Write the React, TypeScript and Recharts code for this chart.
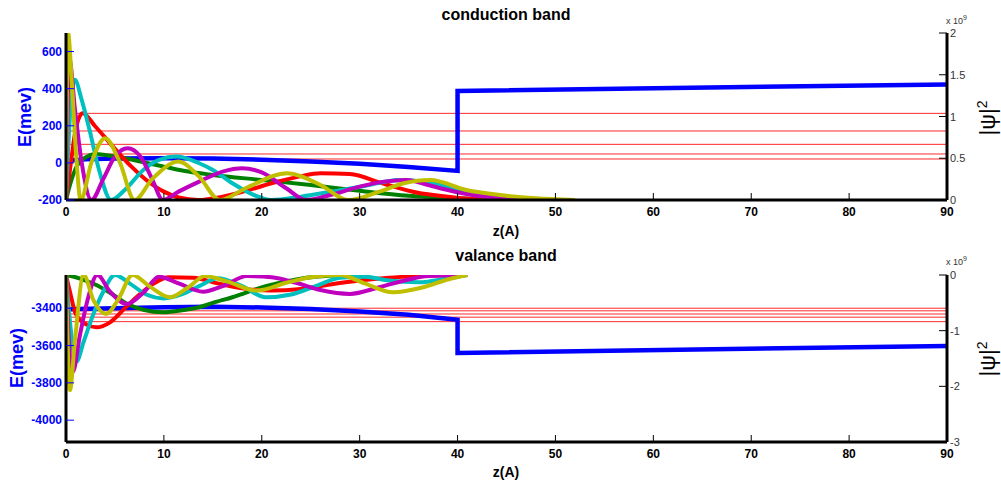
import { LineChart, Line, XAxis, YAxis, ReferenceLine } from 'recharts';

const FONT = "Arial, 'Liberation Sans', sans-serif";

const zTicks = [0, 10, 20, 30, 40, 50, 60, 70, 80, 90];

// ---- conduction band ----
const cbETicks = [-200, 0, 200, 400, 600];
const cbPsiTicks = [0, 0.5, 1, 1.5, 2];
const cbPotZ = [0, 2, 5, 10, 15, 20, 25, 30, 35, 40, 40, 90];
const cbPotE = [12, 20, 24, 25, 23, 17, 8, -5, -22, -43, 388, 423];
const cbLevels = [267, 172, 100, 48, 21];

const cbGreenZ = [0, 0.5, 1, 2, 3, 4, 6, 8, 10, 12, 15, 20, 25, 30, 35, 40, 45];
const cbGreenV = [0, 0.22, 0.38, 0.51, 0.55, 0.54, 0.5, 0.45, 0.4, 0.35, 0.3, 0.24, 0.18, 0.11, 0.05, 0.02, 0];
const cbRedZ = [0, 0.5, 1, 1.7, 3, 4.8, 6.5, 8.2, 10, 11.5, 13.5, 16, 18.7, 21, 23.8, 26, 29, 32.3, 35.8, 39, 42, 46];
const cbRedV = [0, 0.45, 0.85, 1.04, 0.88, 0.64, 0.42, 0.24, 0.1, 0.03, 0, 0.04, 0.12, 0.2, 0.28, 0.32, 0.31, 0.2, 0.09, 0.04, 0.01, 0];
const cbCyanZ = [0, 0.4, 0.9, 1.6, 2.4, 3.4, 4.6, 6, 7.9, 9.5, 11.3, 13.6, 15, 17, 19, 21, 24, 27.2, 30.6, 34, 37.5, 40.9, 44.3, 48];
const cbCyanV = [0, 1.0, 1.44, 1.2, 0.84, 0.35, 0, 0.12, 0.36, 0.48, 0.52, 0.44, 0.36, 0.2, 0.07, 0, 0.04, 0.1, 0.17, 0.24, 0.2, 0.1, 0.03, 0];
const cbMagZ = [0, 0.35, 0.9, 1.6, 2.6, 3.8, 5, 6.3, 7.6, 8.8, 9.9, 11.5, 13.6, 16, 18, 20, 22.5, 24.5, 27, 30, 32.5, 34.8, 37, 39, 42, 44.3, 47];
const cbMagV = [0, 1.68, 1.1, 0.45, 0, 0.25, 0.52, 0.62, 0.52, 0.25, 0, 0.1, 0.22, 0.34, 0.38, 0.33, 0.14, 0, 0.06, 0.16, 0.22, 0.24, 0.18, 0.12, 0.05, 0.02, 0];
const cbYelZ = [0, 0.2, 0.6, 1.0, 1.5, 2.6, 4.0, 5.5, 7.0, 8.8, 11.5, 13.6, 15.7, 18.5, 22.6, 26, 28.8, 32, 34.5, 37.2, 40.9, 44.3, 48, 52];
const cbYelV = [0, 2.0, 1.4, 0.6, 0, 0.45, 0.74, 0.45, 0, 0.25, 0.46, 0.28, 0, 0.15, 0.32, 0.18, 0, 0.1, 0.2, 0.24, 0.12, 0.06, 0.02, 0];

// ---- valance band ----
const vbETicks = [-4000, -3800, -3600, -3400];
const vbPsiTicks = [-3, -2, -1, 0];
const vbPotZ = [0, 5, 10, 15, 20, 25, 30, 35, 40, 40, 90];
const vbPotE = [-3405, -3400, -3395, -3392, -3396, -3404, -3418, -3435, -3462, -3640, -3602];
const vbLevels = [-3400, -3414, -3431, -3448, -3472];

const vbGreenZ = [0, 1, 2, 3.1, 4.5, 6.5, 8, 9.9, 12, 13.6, 15, 17, 20.4, 23.8, 27.2, 30];
const vbGreenV = [0, -0.04, -0.1, -0.18, -0.32, -0.54, -0.63, -0.67, -0.63, -0.58, -0.5, -0.4, -0.2, -0.07, -0.01, 0];
const vbRedZ = [0, 0.4, 1, 2, 3.1, 4.5, 6, 7.5, 9, 10.5, 13, 15.5, 18, 21, 24, 27, 30, 33, 36, 40];
const vbRedV = [0, -0.3, -0.7, -0.88, -0.94, -0.85, -0.6, -0.35, -0.15, -0.04, -0.05, -0.15, -0.24, -0.28, -0.25, -0.17, -0.1, -0.05, -0.02, 0];
const vbCyanZ = [0, 0.5, 1.05, 1.8, 2.8, 3.8, 5, 6.5, 8.2, 10, 11.8, 13.6, 15.5, 18, 20.4, 23, 25.5, 28, 30.5, 33, 36, 39, 41];
const vbCyanV = [0, -1.0, -1.56, -1.2, -0.7, -0.3, 0, -0.15, -0.35, -0.42, -0.35, -0.2, -0.06, -0.2, -0.4, -0.35, -0.2, -0.05, -0.03, -0.1, -0.13, -0.06, 0];
const vbMagZ = [0, 0.3, 0.7, 1.4, 2.2, 3.2, 4.5, 6.2, 8, 9.5, 11.5, 14, 16, 18.5, 21, 23.5, 26, 29, 32, 35, 37, 41];
const vbMagV = [0, -1.2, -1.74, -1.1, -0.45, 0, -0.3, -0.52, -0.3, -0.03, -0.15, -0.3, -0.2, -0.02, -0.04, -0.14, -0.27, -0.34, -0.22, -0.08, -0.02, 0];
const vbYelZ = [0, 0.4, 0.9, 1.8, 2.8, 4.1, 5.3, 6.8, 8.5, 10.6, 12.5, 14.2, 16.5, 19.5, 22.5, 25, 28, 30.5, 33.4, 36.5, 39, 41];
const vbYelV = [0, -2.07, -1.2, 0, -0.45, -0.7, -0.45, 0, -0.2, -0.4, -0.22, -0.02, -0.12, -0.28, -0.14, -0.04, 0, -0.15, -0.31, -0.22, -0.08, 0];

const WAVE_COLORS = ['#008000', '#ff0000', '#00bfbf', '#bf00bf', '#bfbf00'];

const pts = (zs: number[], vs: number[]) => zs.map((z, i) => ({ z, v: vs[i] }));

const PL = 66;
const PR = 947;
const W = 1001;
const H = 243;

interface PanelProps {
  mt: number;
  xh: number;
  eDomain: [number, number];
  eTicks: number[];
  psiDomain: [number, number];
  psiTicks: number[];
  pot: { z: number; v: number }[];
  levels: number[];
  waves: { z: number; v: number }[][];
}

function Panel({ mt, xh, eDomain, eTicks, psiDomain, psiTicks, pot, levels, waves }: PanelProps) {
  const bottom = H - xh;
  const xTick = (p: any) => (
    <g>
      <line x1={p.x} x2={p.x} y1={bottom} y2={bottom - 7} stroke="#000" />
      <text x={p.x} y={bottom + 16} textAnchor="middle" fontWeight="bold" fontSize={12} fontFamily={FONT} fill="#000">
        {p.payload.value}
      </text>
    </g>
  );
  const eTick = (p: any) => (
    <g>
      <line x1={PL} x2={PL + 8} y1={p.y} y2={p.y} stroke="#0000ff" />
      <text x={PL - 4} y={p.y + 4} textAnchor="end" fontWeight="bold" fontSize={12} fontFamily={FONT} fill="#0000ff">
        {p.payload.value}
      </text>
    </g>
  );
  const psiTick = (p: any) => (
    <g>
      <line x1={PR - 8} x2={PR} y1={p.y} y2={p.y} stroke="#000" />
      <text x={PR + 3} y={p.y + 4} textAnchor="start" fontSize={11} fontFamily={FONT} fill="#333">
        {p.payload.value}
      </text>
    </g>
  );
  const border = { stroke: '#000', strokeWidth: 3 };
  return (
    <LineChart width={W} height={H} margin={{ top: mt, right: 0, bottom: 0, left: 0 }}>
      <XAxis xAxisId="b" type="number" dataKey="z" domain={[0, 90]} ticks={zTicks} interval={0}
        height={xh} axisLine={border} tickLine={false} tick={xTick} allowDataOverflow />
      <XAxis xAxisId="t" orientation="top" type="number" dataKey="z" domain={[0, 90]} ticks={zTicks}
        height={0} axisLine={border} tickLine={false} tick={false} allowDataOverflow />
      <YAxis yAxisId="e" type="number" domain={eDomain} ticks={eTicks} interval={0} width={PL}
        axisLine={border} tickLine={false} tick={eTick} allowDataOverflow />
      <YAxis yAxisId="psi" orientation="right" type="number" domain={psiDomain} ticks={psiTicks} interval={0}
        width={W - PR} axisLine={border} tickLine={false} tick={psiTick} allowDataOverflow />
      {levels.map((l, i) => (
        <ReferenceLine key={'l' + i} xAxisId="b" yAxisId="e" y={l} stroke="#ff2a2a" strokeWidth={1} />
      ))}
      <Line xAxisId="b" yAxisId="e" data={pot} dataKey="v" type="linear" stroke="#0000ff" strokeWidth={4.5}
        dot={false} isAnimationActive={false} />
      {waves.map((w, i) => (
        <Line key={'w' + i} xAxisId="b" yAxisId="psi" data={w} dataKey="v" type="monotone"
          stroke={WAVE_COLORS[i]} strokeWidth={4} dot={false} isAnimationActive={false} />
      ))}
    </LineChart>
  );
}

const txt = (extra: any) => ({ position: 'absolute' as const, fontFamily: FONT, whiteSpace: 'nowrap' as const, lineHeight: 1, ...extra });

function Labels({ top, title, eX, expTop }: { top: number; title: string; eX: number; expTop: number }) {
  return (
    <>
      <div style={txt({ left: 506, top: top + 15, transform: 'translate(-50%,-50%)', fontSize: 16, fontWeight: 'bold' })}>{title}</div>
      <div style={txt({ left: eX, top: top + 117, transform: 'translate(-50%,-50%) rotate(-90deg)', fontSize: 18, fontWeight: 'bold', color: '#0000ff' })}>E(mev)</div>
      <div style={txt({ left: 987, top: top + 118, transform: 'translate(-50%,-50%) rotate(-90deg)', fontSize: 22 })}>
        |ψ|<sup style={{ fontSize: 14 }}>2</sup>
      </div>
      <div style={txt({ left: 946, top: expTop, fontSize: 9, color: '#333' })}>
        x 10<sup style={{ fontSize: 7 }}>9</sup>
      </div>
      <div style={txt({ left: 506, top: top + 231, transform: 'translate(-50%,-50%)', fontSize: 14, fontWeight: 'bold' })}>z(A)</div>
    </>
  );
}

export default function App() {
  const cbWaves = [pts(cbGreenZ, cbGreenV), pts(cbRedZ, cbRedV), pts(cbCyanZ, cbCyanV), pts(cbMagZ, cbMagV), pts(cbYelZ, cbYelV)];
  const vbWaves = [pts(vbGreenZ, vbGreenV), pts(vbRedZ, vbRedV), pts(vbCyanZ, vbCyanV), pts(vbMagZ, vbMagV), pts(vbYelZ, vbYelV)];
  return (
    <div style={{ position: 'absolute', left: 0, top: 0, width: W, height: 486, background: '#fff' }}>
      <div style={{ position: 'absolute', left: 0, top: 0 }}>
        <Panel mt={33} xh={43} eDomain={[-200, 700]} eTicks={cbETicks} psiDomain={[0, 2]} psiTicks={cbPsiTicks}
          pot={pts(cbPotZ, cbPotE)} levels={cbLevels} waves={cbWaves} />
      </div>
      <div style={{ position: 'absolute', left: 0, top: 243 }}>
        <Panel mt={32} xh={44} eDomain={[-4117, -3222]} eTicks={vbETicks} psiDomain={[-3, 0]} psiTicks={vbPsiTicks}
          pot={pts(vbPotZ, vbPotE)} levels={vbLevels} waves={vbWaves} />
      </div>
      <Labels top={0} title="conduction band" eX={25} expTop={14} />
      <Labels top={241} title="valance band" eX={17} expTop={255} />
    </div>
  );
}
